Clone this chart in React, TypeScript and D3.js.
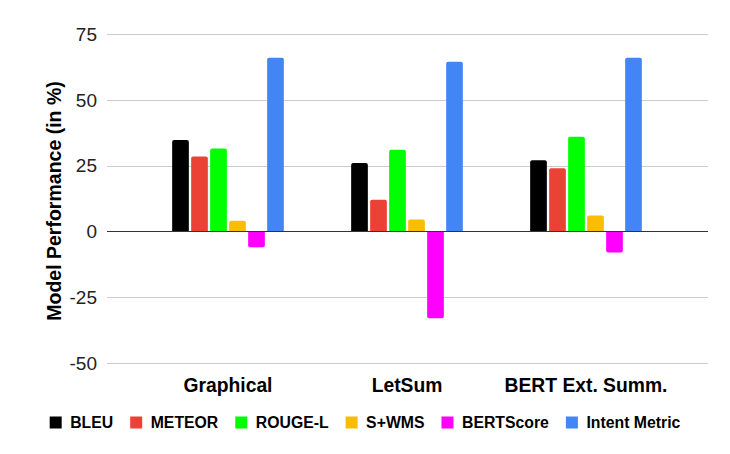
import React, { useEffect, useRef } from "react";
import * as d3 from "d3";

const categories = ["Graphical", "LetSum", "BERT Ext. Summ."];
const seriesNames = ["BLEU", "METEOR", "ROUGE-L", "S+WMS", "BERTScore", "Intent Metric"];
const seriesColors = ["#000000", "#ea4335", "#00ff00", "#fbbc04", "#ff00ff", "#4285f4"];
// values[series][category]
const bleu = [34.7, 26, 27];
const meteor = [28.5, 12, 24];
const rougeL = [31.5, 31, 36];
const sWms = [4, 4.5, 6];
const bertScore = [-6, -33, -8];
const intentMetric = [66, 64.5, 66];
const yTicks = [-50, -25, 0, 25, 50, 75];
const yTitle = "Model Performance (in %)";

const W = 730;
const H = 454;
const FONT = "'Liberation Sans', Arial, sans-serif";

export default function App() {
  const ref = useRef<SVGSVGElement | null>(null);

  useEffect(() => {
    const svg = d3.select(ref.current);
    svg.selectAll("*").remove();

    const series = [bleu, meteor, rougeL, sWms, bertScore, intentMetric];

    const y = d3.scaleLinear().domain([-50, 75]).range([363, 34]);
    const x0 = d3.scaleBand<string>().domain(categories).range([138.5, 675.5]);
    const x1 = d3
      .scaleBand<string>()
      .domain(seriesNames)
      .range([-55.85, 55.85])
      .paddingInner(0.121);

    const gridLeft = 107;
    const gridRight = 708;

    svg.append("rect").attr("width", W).attr("height", H).attr("fill", "#ffffff");

    // gridlines
    svg
      .append("g")
      .selectAll("line")
      .data(yTicks.filter((t) => t !== 0))
      .join("line")
      .attr("x1", gridLeft)
      .attr("x2", gridRight)
      .attr("y1", (d) => Math.round(y(d)) + 0.5)
      .attr("y2", (d) => Math.round(y(d)) + 0.5)
      .attr("stroke", "#cccccc")
      .attr("stroke-width", 1);

    // y tick labels
    svg
      .append("g")
      .selectAll("text")
      .data(yTicks)
      .join("text")
      .attr("x", 97)
      .attr("y", (d) => y(d))
      .attr("dy", "0.36em")
      .attr("text-anchor", "end")
      .attr("font-family", FONT)
      .attr("font-size", 19)
      .attr("fill", "#222222")
      .text((d) => String(d));

    // bars
    const groups = svg
      .append("g")
      .selectAll("g")
      .data(categories)
      .join("g")
      .attr("transform", (c) => `translate(${(x0(c) as number) + x0.bandwidth() / 2},0)`);

    groups
      .selectAll("path")
      .data((c, ci) => seriesNames.map((s, si) => ({ s, si, v: series[si][ci] })))
      .join("path")
      .attr("fill", (d) => seriesColors[d.si])
      .attr("d", (d) => {
        const bx = x1(d.s) as number;
        const bw = x1.bandwidth();
        const y0 = y(0);
        const yv = y(d.v);
        const r = 2;
        const p = d3.path();
        if (d.v >= 0) {
          p.moveTo(bx, y0);
          p.lineTo(bx, yv + r);
          p.quadraticCurveTo(bx, yv, bx + r, yv);
          p.lineTo(bx + bw - r, yv);
          p.quadraticCurveTo(bx + bw, yv, bx + bw, yv + r);
          p.lineTo(bx + bw, y0);
        } else {
          p.moveTo(bx, y0);
          p.lineTo(bx, yv - r);
          p.quadraticCurveTo(bx, yv, bx + r, yv);
          p.lineTo(bx + bw - r, yv);
          p.quadraticCurveTo(bx + bw, yv, bx + bw, yv - r);
          p.lineTo(bx + bw, y0);
        }
        p.closePath();
        return p.toString();
      });

    // zero line
    svg
      .append("line")
      .attr("x1", gridLeft)
      .attr("x2", gridRight)
      .attr("y1", Math.round(y(0)) + 0.5)
      .attr("y2", Math.round(y(0)) + 0.5)
      .attr("stroke", "#333333")
      .attr("stroke-width", 1);

    // category labels
    svg
      .append("g")
      .selectAll("text")
      .data(categories)
      .join("text")
      .attr("x", (c) => (x0(c) as number) + x0.bandwidth() / 2)
      .attr("y", 391.7)
      .attr("text-anchor", "middle")
      .attr("font-family", FONT)
      .attr("font-size", 19.3)
      .attr("font-weight", "bold")
      .attr("fill", "#000000")
      .text((c) => c);

    // y axis title
    svg
      .append("text")
      .attr("transform", `translate(60.5,201) rotate(-90)`)
      .attr("text-anchor", "middle")
      .attr("font-family", FONT)
      .attr("font-size", 19.5)
      .attr("font-weight", "bold")
      .attr("fill", "#000000")
      .text(yTitle);

    // legend
    const legend = svg.append("g");
    const sq = 12;
    const gapText = 8.5;
    const gapItem = 17;
    let cx = 0;
    const items: { x: number; i: number }[] = [];
    seriesNames.forEach((name, i) => {
      const t = legend
        .append("text")
        .attr("font-family", FONT)
        .attr("font-size", 15.8)
        .attr("font-weight", "bold")
        .attr("fill", "#000000")
        .attr("y", 422.5)
        .attr("dy", "0.36em")
        .text(name);
      const tw = (t.node() as SVGTextElement).getComputedTextLength();
      t.attr("x", cx + sq + gapText);
      legend
        .append("rect")
        .attr("x", cx)
        .attr("y", 416.5)
        .attr("width", sq)
        .attr("height", sq)
        .attr("fill", seriesColors[i]);
      items.push({ x: cx, i });
      cx += sq + gapText + tw + gapItem;
    });
    const totalW = cx - gapItem;
    legend.attr("transform", `translate(${W / 2 - totalW / 2 + 0},0)`);
  }, []);

  return (
    <svg
      ref={ref}
      width={W}
      height={H}
      style={{ position: "absolute", left: 0, top: 0, display: "block" }}
    />
  );
}
